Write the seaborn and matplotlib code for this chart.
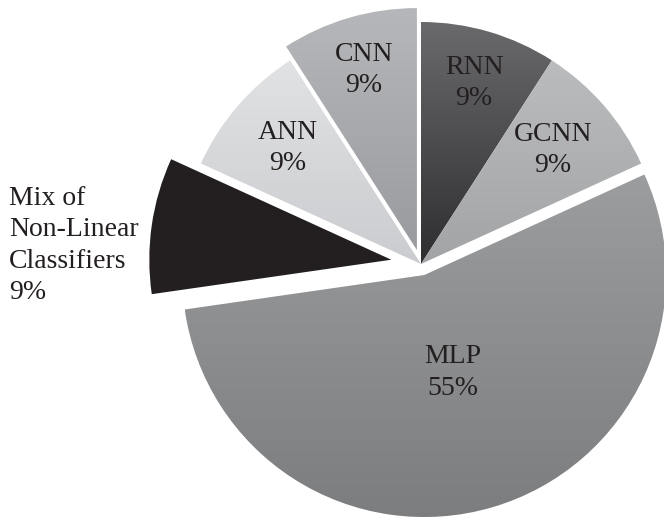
import numpy as np
import matplotlib
matplotlib.use("Agg")
import matplotlib.pyplot as plt
from matplotlib.colors import LinearSegmentedColormap
import seaborn as sns

# Share of studies per classifier family (counts of papers)
models = ["RNN", "GCNN", "MLP", "Mix of\nNon-Linear\nClassifiers", "ANN", "CNN"]
counts = [1, 1, 6, 1, 1, 1]

# Vertical shading of each wedge: (top colour, bottom colour)
shades = [
    ("#6a6a6c", "#2e2e30"),
    ("#bbbcbe", "#a3a4a6"),
    ("#9c9d9f", "#7c7d7f"),
    ("#231f20", "#231f20"),
    ("#e1e2e4", "#cbcccf"),
    ("#b6b7ba", "#9a9b9e"),
]
offsets = [0, 0, 11.5, 30, 0, 14.5]          # explode distance in pixels
label_dist = [0.78, 0.72, 0.42, None, 0.73, 0.775]

sns.set_theme(style="white")
plt.rcParams["font.family"] = ["Liberation Serif", "DejaVu Serif"]

W, H = 664, 518
fig = plt.figure(figsize=(W / 100, H / 100), dpi=100)
ax = fig.add_axes([0, 0, 1, 1])

cx, cy, R = 421, H - 264, 242
wedges, _ = ax.pie(
    counts,
    colors=[s[0] for s in shades],
    startangle=90,
    counterclock=False,
    explode=offsets,
    center=(cx, cy),
    radius=R,
    wedgeprops=dict(linewidth=0),
)
ax.set_xlim(0, W)
ax.set_ylim(0, H)
ax.set_aspect("auto")
ax.axis("off")

total = sum(counts)
txt_color = "#231f20"
fs = 20
ls = 1.33

for w, (top, bot), name, n, dist in zip(wedges, shades, models, counts, label_dist):
    ext = w.get_path().get_extents(w.get_patch_transform())
    cmap = LinearSegmentedColormap.from_list("shade", [bot, top])
    grad = np.linspace(0, 1, 256).reshape(-1, 1)
    im = ax.imshow(grad, cmap=cmap, origin="lower", aspect="auto",
                   extent=(ext.x0, ext.x1, ext.y0, ext.y1), zorder=w.get_zorder() + 0.1)
    im.set_clip_path(w)
    w.set_facecolor("none")

    pct = f"{n / total * 100:.0f}%"
    if dist is None:
        ax.text(9, H - 186, f"{name}\n{pct}", ha="left", va="top",
                fontsize=fs, color=txt_color, linespacing=ls, zorder=5)
        continue
    theta = np.deg2rad((w.theta1 + w.theta2) / 2)
    wx, wy = w.center
    tx = wx + dist * R * np.cos(theta)
    ty = wy + dist * R * np.sin(theta)
    ax.text(tx, ty, f"{name}\n{pct}", ha="center", va="center",
            fontsize=fs, color=txt_color, linespacing=ls, zorder=5)

ax.set_xlim(0, W)
ax.set_ylim(0, H)
fig.savefig("out.png", dpi=100, facecolor="white")
